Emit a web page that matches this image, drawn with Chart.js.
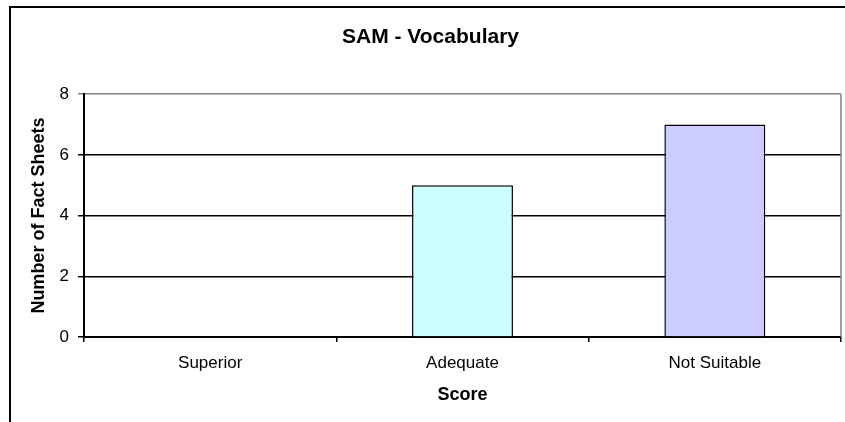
<!DOCTYPE html>
<html>
<head>
<meta charset="utf-8">
<title>SAM - Vocabulary</title>
<script src="https://cdn.jsdelivr.net/npm/chart.js@4/dist/chart.umd.min.js"></script>
<style>
  html, body { margin: 0; padding: 0; background: #fff; }
  #chart { display: block; }
</style>
</head>
<body>
<canvas id="chart" width="845" height="422"></canvas>
<script>
const categories = ["Superior", "Adequate", "Not Suitable"];
const sheetCounts = [0, 5, 7];
const barColors = ["#9999FF", "#CCFFFF", "#CCCCFF"];
const yMin = 0;
const yMax = 8;
const yStep = 2;

const fontFamily = '"Liberation Sans", Arial, sans-serif';

// outer frame of the chart + gray plot border on the right
const framePlugin = {
  id: "frame",
  beforeDraw(chart) {
    const ctx = chart.ctx;
    ctx.save();
    ctx.fillStyle = "#fff";
    ctx.fillRect(0, 0, chart.width, chart.height);
    ctx.strokeStyle = "#000";
    ctx.lineWidth = 2;
    ctx.beginPath();
    ctx.moveTo(10, chart.height);
    ctx.lineTo(10, 7);
    ctx.lineTo(chart.width, 7);
    ctx.stroke();
    ctx.restore();
  },
  afterDatasetsDraw(chart) {
    const { ctx, chartArea } = chart;
    ctx.save();
    ctx.strokeStyle = "#808080";
    ctx.lineWidth = 1.5;
    ctx.beginPath();
    ctx.moveTo(chartArea.right, chartArea.top);
    ctx.lineTo(chartArea.right, chartArea.bottom);
    ctx.stroke();
    ctx.restore();
  }
};

const myChart = new Chart(document.getElementById("chart"), {
  type: "bar",
  data: {
    labels: categories,
    datasets: [
      {
        label: "Number of Fact Sheets",
        data: sheetCounts,
        backgroundColor: barColors,
        borderColor: "#000",
        borderWidth: 1.5,
        barPercentage: 0.4,
        categoryPercentage: 1
      }
    ]
  },
  options: {
    responsive: false,
    animation: false,
    devicePixelRatio: 1,
    layout: {
      padding: { left: 20, right: 4, top: 0, bottom: 15 }
    },
    plugins: {
      legend: { display: false },
      tooltip: { enabled: false },
      title: {
        display: true,
        text: "SAM - Vocabulary",
        color: "#000",
        font: { family: fontFamily, size: 21, weight: "bold" },
        padding: { top: 25, bottom: 44 }
      }
    },
    scales: {
      x: {
        offset: true,
        grid: {
          display: true,
          offset: true,
          drawOnChartArea: false,
          drawTicks: true,
          tickLength: 5,
          color: "#000",
          lineWidth: 1.5
        },
        border: { display: true, color: "#000", width: 2 },
        ticks: {
          color: "#000",
          padding: 11,
          maxRotation: 0,
          font: { family: fontFamily, size: 17 }
        },
        title: {
          display: true,
          text: "Score",
          color: "#000",
          font: { family: fontFamily, size: 18, weight: "bold" },
          padding: { top: 0, bottom: 1 }
        },
        afterFit(scale) {
          scale.height = 70;
        }
      },
      y: {
        min: yMin,
        max: yMax,
        grid: {
          tickLength: 6,
          lineWidth: 1.5,
          color: (ctx) => (ctx.tick && ctx.tick.value === yMax ? "#808080" : "#000")
        },
        border: { display: true, color: "#000", width: 2 },
        ticks: {
          stepSize: yStep,
          color: "#000",
          padding: 9,
          font: { family: fontFamily, size: 17 }
        },
        title: {
          display: true,
          text: "Number of Fact Sheets",
          color: "#000",
          font: { family: fontFamily, size: 18, weight: "bold" },
          padding: { top: 8, bottom: 0 }
        },
        afterFit(scale) {
          scale.width = 64;
        }
      }
    }
  },
  plugins: [framePlugin]
});
</script>
</body>
</html>
